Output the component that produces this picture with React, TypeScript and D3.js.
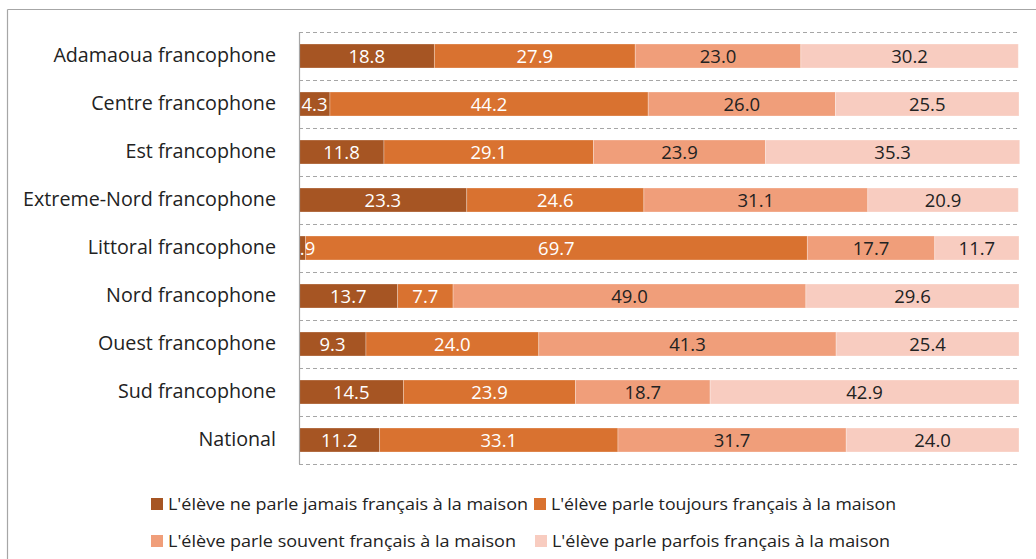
import React from "react";
import * as d3 from "d3";

const categories = [
  "Adamaoua francophone",
  "Centre francophone",
  "Est francophone",
  "Extreme-Nord francophone",
  "Littoral francophone",
  "Nord francophone",
  "Ouest francophone",
  "Sud francophone",
  "National",
];
const seriesNames = [
  "L'élève ne parle jamais français à la maison",
  "L'élève parle toujours français à la maison",
  "L'élève parle souvent français à la maison",
  "L'élève parle parfois français à la maison",
];
const jamais = [18.8, 4.3, 11.8, 23.3, 0.9, 13.7, 9.3, 14.5, 11.2];
const toujours = [27.9, 44.2, 29.1, 24.6, 69.7, 7.7, 24.0, 23.9, 33.1];
const souvent = [23.0, 26.0, 23.9, 31.1, 17.7, 49.0, 41.3, 18.7, 31.7];
const parfois = [30.2, 25.5, 35.3, 20.9, 11.7, 29.6, 25.4, 42.9, 24.0];

const colors = ["#A65523", "#D97230", "#F09E7A", "#F8CCC0"];
const labelColors = ["#ffffff", "#ffffff", "#222222", "#222222"];
const FONT = "'Open Sans', sans-serif";

export default function App() {
  const W = 1036, H = 559;
  const x0 = 299, x1 = 1019, y0 = 32, y1 = 464;
  const x = d3.scaleLinear().domain([0, 100]).range([x0, x1]);
  const y = d3.scaleBand().domain(categories).range([y0, y1]).paddingInner(0.5).paddingOuter(0.25);
  const band = d3.scaleBand().domain(categories).range([y0, y1]);
  const seriesData = [jamais, toujours, souvent, parfois];
  const rows = categories.map((c, i) => {
    let acc = 0;
    return seriesData.map((s, k) => {
      const start = acc;
      acc += s[i];
      return { c, k, v: s[i], start, end: acc };
    });
  });
  const legendPos = [
    { x: 151, y: 498, tw: 360 },
    { x: 534, y: 498, tw: 345 },
    { x: 151, y: 535, tw: 348 },
    { x: 535, y: 535, tw: 338 },
  ];
  return (
    <svg width={W} height={H} style={{ position: "absolute", left: 0, top: 0, background: "#fff" }} fontFamily={FONT}>
      <defs>
        <clipPath id="plotclip">
          <rect x={x0} y={0} width={W - x0} height={H} />
        </clipPath>
      </defs>
      <line x1={7.5} y1={9.5} x2={W} y2={9.5} stroke="#A6A6A6" strokeWidth={1.2} />
      <line x1={7.5} y1={9.5} x2={7.5} y2={H} stroke="#A6A6A6" strokeWidth={1.2} />
      {[...categories.map((c) => band(c)!), y1].map((yy, i) => (
        <line key={i} x1={x0} x2={1017} y1={yy + 0.5} y2={yy + 0.5} stroke="#A6A6A6" strokeDasharray="4,3" strokeWidth={1} />
      ))}
      {rows.map((r, i) =>
        r.map((seg) => (
          <rect key={i + "-" + seg.k} x={x(seg.start)} y={y(seg.c)} width={x(seg.end) - x(seg.start)} height={y.bandwidth()}
            fill={colors[seg.k]} stroke="#ffffff" strokeOpacity={0.35} strokeWidth={0.8} />
        ))
      )}
      <g clipPath="url(#plotclip)">
        {rows.map((r, i) =>
          r.map((seg) => (
            <text key={"t" + i + "-" + seg.k} x={(x(seg.start) + x(seg.end)) / 2} y={y(seg.c)! + y.bandwidth() / 2}
              dy="0.36em" textAnchor="middle" fontSize={18.5} fill={labelColors[seg.k]}>
              {seg.v.toFixed(1)}
            </text>
          ))
        )}
      </g>
      <line x1={x0 + 0.5} x2={x0 + 0.5} y1={y0} y2={y1} stroke="#A6A6A6" strokeWidth={1.2} />
      {categories.map((c) => (
        <text key={c} x={276} y={y(c)! + y.bandwidth() / 2 - 1} dy="0.36em" textAnchor="end" fontSize={19.7} fill="#222">
          {c}
        </text>
      ))}
      {seriesNames.map((n, k) => (
        <g key={n}>
          <rect x={legendPos[k].x} y={legendPos[k].y} width={12} height={12} fill={colors[k]} />
          <text x={legendPos[k].x + 17} y={legendPos[k].y + 6} dy="0.36em" fontSize={16.5} fill="#222"
            textLength={legendPos[k].tw} lengthAdjust="spacingAndGlyphs">
            {n}
          </text>
        </g>
      ))}
    </svg>
  );
}
